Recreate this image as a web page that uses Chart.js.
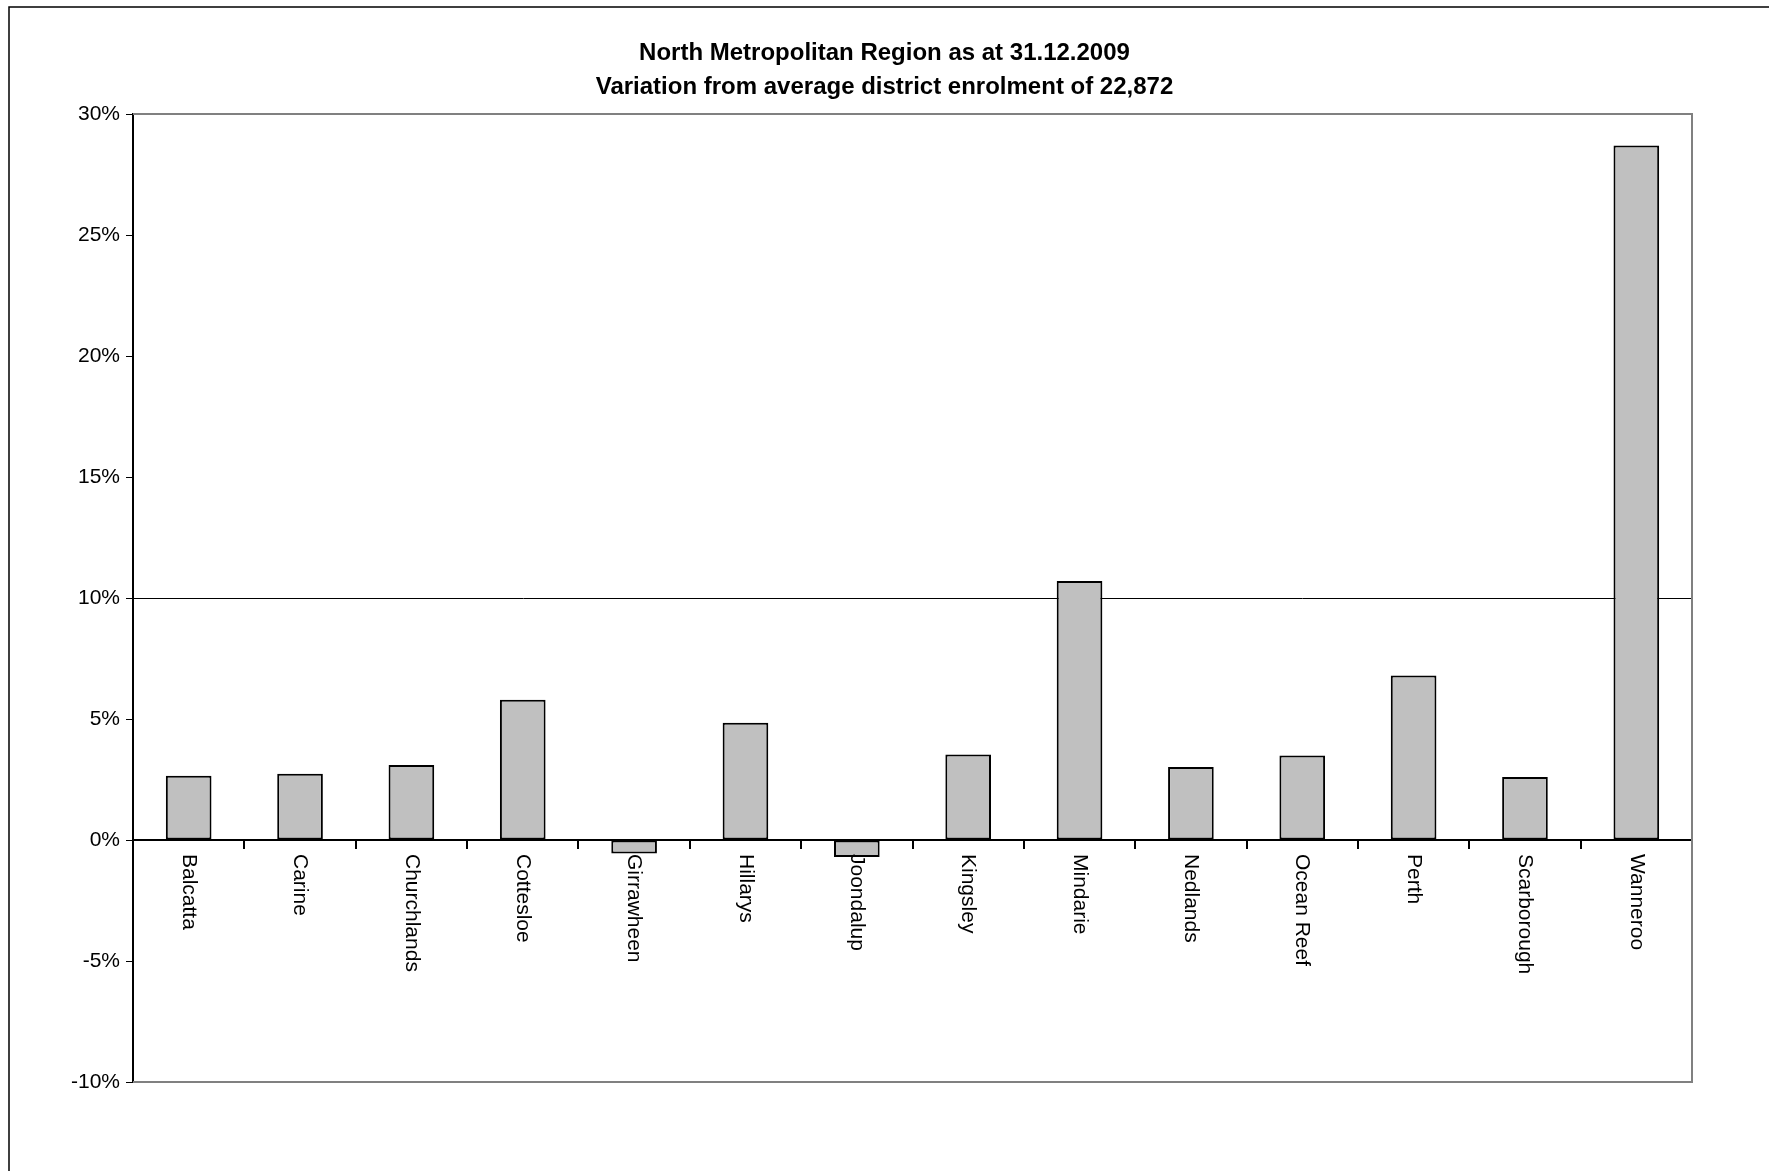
<!DOCTYPE html>
<html>
<head>
<meta charset="utf-8">
<script src="https://cdn.jsdelivr.net/npm/chart.js@4/dist/chart.umd.min.js"></script>
<style>
  html, body { margin: 0; padding: 0; background: #fff; }
  #wrap { width: 1769px; height: 1171px; }
</style>
</head>
<body>
<div id="wrap"><canvas id="chartVariasi"></canvas></div>
<script>
const titleLines = ['North Metropolitan Region as at 31.12.2009', 'Variation from average district enrolment of 22,872'];
const districts = ['Balcatta', 'Carine', 'Churchlands', 'Cottesloe', 'Girrawheen', 'Hillarys', 'Joondalup',
    'Kingsley', 'Mindarie', 'Nedlands', 'Ocean Reef', 'Perth', 'Scarborough', 'Wanneroo'];
const variation = [2.65, 2.74, 3.1, 5.8, -0.56, 4.84, -0.7, 3.53, 10.7, 3.02, 3.49, 6.8, 2.6, 28.7];
const yMin = -10, yMax = 30, yStep = 5;
const markerLine = 10;

const fontFamily = '"Liberation Sans", Arial, sans-serif';

const extrasPlugin = {
    id: 'extras',
    afterDraw(chart) {
        const ctx = chart.ctx;
        const area = chart.chartArea;
        const x = chart.scales.x, y = chart.scales.y;
        ctx.save();
        // outer frame
        ctx.strokeStyle = '#000';
        ctx.lineWidth = 1.5;
        ctx.beginPath();
        ctx.moveTo(9, chart.height);
        ctx.lineTo(9, 7);
        ctx.lineTo(chart.width, 7);
        ctx.stroke();
        // plot border top/right
        ctx.strokeStyle = '#808080';
        ctx.lineWidth = 2;
        ctx.beginPath();
        ctx.moveTo(area.left, area.top);
        ctx.lineTo(area.right, area.top);
        ctx.lineTo(area.right, area.bottom);
        ctx.lineTo(area.left, area.bottom);
        ctx.stroke();
        // title
        ctx.fillStyle = '#000';
        ctx.font = 'bold 24px ' + fontFamily;
        ctx.textAlign = 'center';
        ctx.textBaseline = 'middle';
        ctx.fillText(titleLines[0], chart.width / 2, 53);
        ctx.fillText(titleLines[1], chart.width / 2, 87);
        // category labels, rotated clockwise
        ctx.font = '21px ' + fontFamily;
        ctx.textAlign = 'left';
        const y0 = y.getPixelForValue(0) + 14;
        districts.forEach((name, i) => {
            ctx.save();
            ctx.translate(x.getPixelForValue(i), y0);
            ctx.rotate(Math.PI / 2);
            ctx.fillText(name, 0, 0);
            ctx.restore();
        });
        ctx.restore();
    }
};

const ctx = document.getElementById('chartVariasi').getContext('2d');
const chartVariasi = new Chart(ctx, {
    type: 'bar',
    data: {
        labels: districts,
        datasets: [{
            data: variation,
            backgroundColor: '#c0c0c0',
            borderColor: '#000',
            borderWidth: 2,
            borderSkipped: false,
            barPercentage: 0.41,
            categoryPercentage: 1
        }]
    },
    options: {
        responsive: true,
        maintainAspectRatio: false,
        animation: false,
        layout: { padding: { left: 0, top: 114, right: 77, bottom: 89 } },
        plugins: {
            legend: { display: false },
            tooltip: { enabled: false }
        },
        scales: {
            x: {
                position: { y: 0 },
                ticks: { display: false },
                border: { display: true, color: '#000', width: 2 },
                grid: {
                    offset: true,
                    drawOnChartArea: false,
                    drawTicks: true,
                    tickLength: 8,
                    color: '#000',
                    lineWidth: 2
                }
            },
            y: {
                min: yMin,
                max: yMax,
                afterFit: (scale) => { scale.width = 133; },
                ticks: {
                    stepSize: yStep,
                    color: '#000',
                    padding: 6,
                    font: { family: fontFamily, size: 21 },
                    callback: (v) => v + '%'
                },
                border: { display: true, color: '#000', width: 2 },
                grid: {
                    color: (c) => c.tick && c.tick.value === markerLine ? '#000' : 'rgba(0,0,0,0)',
                    lineWidth: 1,
                    tickColor: '#000',
                    tickLength: 7
                }
            }
        }
    },
    plugins: [extrasPlugin]
});
</script>
</body>
</html>
